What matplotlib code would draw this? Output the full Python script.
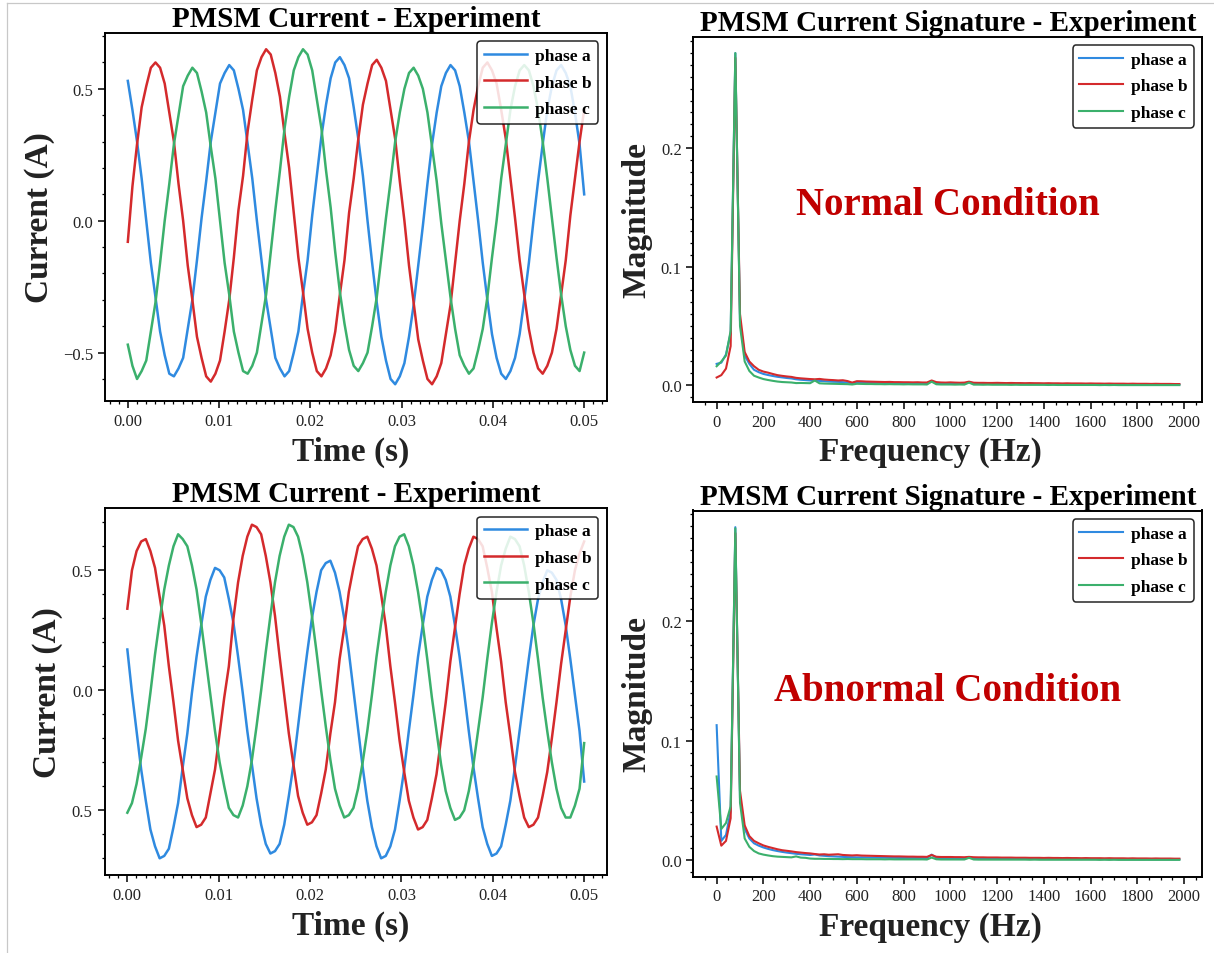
import numpy as np
import matplotlib
matplotlib.use("Agg")
import matplotlib.pyplot as plt
from matplotlib.ticker import MultipleLocator
from matplotlib.lines import Line2D

plt.rcParams["font.family"] = ["Liberation Serif", "DejaVu Serif"]

# ---------------------------------------------------------------- data
time_s = np.linspace(0, 0.05, 100)
freq_hz = np.arange(0, 2000, 20)

# normal condition, phase currents (A)
normal_a = [0.53, 0.42, 0.30, 0.16, 0.00, -0.16, -0.29, -0.42, -0.51, -0.58,
            -0.59, -0.56, -0.52, -0.41, -0.30, -0.15, 0.01, 0.15, 0.30, 0.41,
            0.52, 0.56, 0.59, 0.57, 0.50, 0.42, 0.29, 0.16, 0.00, -0.15,
            -0.30, -0.41, -0.52, -0.56, -0.59, -0.57, -0.50, -0.42, -0.28, -0.15,
            0.02, 0.17, 0.32, 0.44, 0.54, 0.60, 0.62, 0.59, 0.54, 0.43,
            0.31, 0.17, 0.00, -0.16, -0.31, -0.44, -0.53, -0.60, -0.62, -0.59,
            -0.54, -0.44, -0.32, -0.17, -0.02, 0.14, 0.29, 0.41, 0.51, 0.56,
            0.59, 0.57, 0.51, 0.41, 0.30, 0.15, 0.00, -0.16, -0.30, -0.43,
            -0.52, -0.58, -0.60, -0.57, -0.52, -0.43, -0.30, -0.16, 0.00, 0.15,
            0.29, 0.42, 0.51, 0.57, 0.59, 0.56, 0.51, 0.41, 0.29, 0.10]
normal_b = [-0.08, 0.13, 0.29, 0.43, 0.51, 0.58, 0.60, 0.58, 0.52, 0.41,
            0.30, 0.14, 0.00, -0.17, -0.30, -0.44, -0.52, -0.59, -0.61, -0.58,
            -0.53, -0.42, -0.30, -0.14, 0.04, 0.17, 0.34, 0.46, 0.57, 0.62,
            0.65, 0.63, 0.56, 0.47, 0.33, 0.20, 0.03, -0.14, -0.27, -0.41,
            -0.50, -0.57, -0.59, -0.56, -0.51, -0.42, -0.28, -0.15, 0.03, 0.16,
            0.31, 0.44, 0.52, 0.59, 0.61, 0.58, 0.53, 0.42, 0.31, 0.15,
            0.00, -0.17, -0.31, -0.45, -0.53, -0.60, -0.62, -0.59, -0.54, -0.43,
            -0.32, -0.16, 0.00, 0.14, 0.30, 0.42, 0.51, 0.58, 0.60, 0.57,
            0.52, 0.42, 0.31, 0.16, 0.01, -0.15, -0.28, -0.41, -0.50, -0.56,
            -0.58, -0.55, -0.50, -0.41, -0.28, -0.15, 0.02, 0.16, 0.30, 0.42]
normal_c = [-0.47, -0.55, -0.60, -0.57, -0.53, -0.42, -0.31, -0.16, 0.00, 0.14,
            0.29, 0.40, 0.51, 0.55, 0.58, 0.56, 0.49, 0.41, 0.28, 0.16,
            0.00, -0.16, -0.28, -0.42, -0.50, -0.57, -0.58, -0.55, -0.50, -0.39,
            -0.28, -0.12, 0.04, 0.19, 0.35, 0.47, 0.57, 0.62, 0.65, 0.63,
            0.57, 0.46, 0.35, 0.19, 0.05, -0.12, -0.27, -0.39, -0.49, -0.55,
            -0.57, -0.54, -0.50, -0.40, -0.29, -0.14, 0.01, 0.15, 0.30, 0.41,
            0.50, 0.56, 0.58, 0.55, 0.50, 0.41, 0.28, 0.15, -0.01, -0.15,
            -0.29, -0.41, -0.51, -0.55, -0.58, -0.56, -0.49, -0.41, -0.29, -0.14,
            0.00, 0.16, 0.29, 0.42, 0.51, 0.57, 0.59, 0.57, 0.51, 0.42,
            0.30, 0.16, 0.01, -0.14, -0.28, -0.40, -0.49, -0.55, -0.57, -0.50]

# abnormal condition, phase currents (A)
abnormal_a = [0.17, -0.01, -0.17, -0.33, -0.46, -0.58, -0.65, -0.70, -0.69, -0.66,
              -0.57, -0.47, -0.32, -0.18, -0.01, 0.14, 0.27, 0.39, 0.46, 0.51,
              0.50, 0.47, 0.38, 0.28, 0.14, -0.01, -0.17, -0.31, -0.45, -0.56,
              -0.64, -0.68, -0.67, -0.64, -0.56, -0.44, -0.31, -0.15, 0.01, 0.16,
              0.30, 0.41, 0.50, 0.53, 0.54, 0.49, 0.41, 0.30, 0.16, 0.00,
              -0.16, -0.32, -0.46, -0.57, -0.65, -0.70, -0.69, -0.65, -0.58, -0.46,
              -0.33, -0.17, -0.02, 0.14, 0.27, 0.39, 0.46, 0.51, 0.50, 0.46,
              0.39, 0.27, 0.14, -0.01, -0.17, -0.32, -0.45, -0.57, -0.64, -0.69,
              -0.68, -0.65, -0.56, -0.46, -0.32, -0.17, -0.02, 0.13, 0.27, 0.38,
              0.45, 0.50, 0.49, 0.46, 0.38, 0.27, 0.13, -0.02, -0.17, -0.38]
abnormal_b = [0.34, 0.50, 0.58, 0.62, 0.63, 0.58, 0.51, 0.39, 0.27, 0.10,
              -0.05, -0.21, -0.33, -0.45, -0.52, -0.57, -0.56, -0.53, -0.43, -0.33,
              -0.18, -0.03, 0.10, 0.30, 0.45, 0.56, 0.64, 0.69, 0.68, 0.65,
              0.56, 0.45, 0.31, 0.14, -0.02, -0.18, -0.31, -0.44, -0.51, -0.56,
              -0.55, -0.52, -0.43, -0.33, -0.18, -0.05, 0.13, 0.26, 0.41, 0.51,
              0.60, 0.63, 0.64, 0.59, 0.52, 0.40, 0.27, 0.10, -0.05, -0.21,
              -0.34, -0.46, -0.53, -0.58, -0.57, -0.54, -0.45, -0.35, -0.20, -0.05,
              0.12, 0.26, 0.40, 0.52, 0.59, 0.64, 0.63, 0.60, 0.51, 0.41,
              0.26, 0.12, -0.05, -0.19, -0.34, -0.44, -0.53, -0.57, -0.56, -0.53,
              -0.44, -0.34, -0.20, -0.05, 0.11, 0.25, 0.39, 0.50, 0.57, 0.62]
abnormal_c = [-0.51, -0.47, -0.39, -0.28, -0.16, -0.01, 0.15, 0.29, 0.42, 0.52,
              0.60, 0.65, 0.63, 0.60, 0.52, 0.42, 0.28, 0.13, -0.02, -0.17,
              -0.30, -0.40, -0.49, -0.52, -0.53, -0.48, -0.40, -0.29, -0.15, 0.00,
              0.16, 0.31, 0.45, 0.56, 0.64, 0.69, 0.68, 0.64, 0.56, 0.45,
              0.31, 0.16, 0.00, -0.15, -0.29, -0.41, -0.48, -0.53, -0.52, -0.49,
              -0.41, -0.30, -0.17, -0.02, 0.14, 0.28, 0.41, 0.52, 0.60, 0.64,
              0.65, 0.60, 0.52, 0.41, 0.28, 0.13, -0.03, -0.17, -0.31, -0.42,
              -0.49, -0.54, -0.53, -0.50, -0.42, -0.31, -0.17, -0.03, 0.13, 0.28,
              0.41, 0.52, 0.59, 0.64, 0.63, 0.60, 0.52, 0.41, 0.28, 0.13,
              -0.03, -0.17, -0.30, -0.41, -0.49, -0.53, -0.53, -0.48, -0.41, -0.22]

# normal condition, current spectrum magnitudes
normal_fft_a = [0.018, 0.019, 0.026, 0.044, 0.280, 0.054, 0.025, 0.018, 0.013, 0.011,
                0.0095, 0.0086, 0.0078, 0.0071, 0.0066, 0.0061, 0.0057, 0.0050, 0.0046, 0.0043,
                0.0040, 0.0042, 0.0036, 0.0034, 0.0031, 0.0029, 0.0028, 0.0026, 0.0022, 0.0018,
                0.0024, 0.0023, 0.0022, 0.0021, 0.0020, 0.0020, 0.0019, 0.0019, 0.0018, 0.0018,
                0.0017, 0.0017, 0.0016, 0.0017, 0.0016, 0.0016, 0.0035, 0.0018, 0.0015, 0.0015,
                0.0015, 0.0014, 0.0015, 0.0014, 0.0025, 0.0014, 0.0013, 0.0013, 0.0013, 0.0012,
                0.0012, 0.0012, 0.0011, 0.0012, 0.0011, 0.0011, 0.0011, 0.0010, 0.0011, 0.0010,
                0.0010, 0.0010, 0.0009, 0.0010, 0.0009, 0.0009, 0.0009, 0.0009, 0.0008, 0.0009,
                0.0008, 0.0008, 0.0008, 0.0008, 0.0007, 0.0008, 0.0007, 0.0007, 0.0007, 0.0007,
                0.0007, 0.0006, 0.0007, 0.0006, 0.0006, 0.0006, 0.0006, 0.0006, 0.0005, 0.0006]
normal_fft_b = [0.0065, 0.0085, 0.014, 0.033, 0.276, 0.060, 0.028, 0.020, 0.016, 0.013,
                0.0115, 0.0106, 0.0095, 0.0085, 0.0079, 0.0074, 0.0070, 0.0062, 0.0058, 0.0055,
                0.0052, 0.0050, 0.0053, 0.0048, 0.0045, 0.0043, 0.0040, 0.0042, 0.0035, 0.0022,
                0.0034, 0.0033, 0.0031, 0.0030, 0.0029, 0.0028, 0.0027, 0.0028, 0.0026, 0.0026,
                0.0025, 0.0025, 0.0024, 0.0025, 0.0023, 0.0023, 0.0040, 0.0026, 0.0023, 0.0022,
                0.0024, 0.0022, 0.0021, 0.0022, 0.0030, 0.0021, 0.0020, 0.0020, 0.0019, 0.0019,
                0.0020, 0.0019, 0.0018, 0.0019, 0.0018, 0.0018, 0.0017, 0.0018, 0.0017, 0.0017,
                0.0016, 0.0017, 0.0016, 0.0016, 0.0015, 0.0016, 0.0015, 0.0015, 0.0015, 0.0014,
                0.0015, 0.0014, 0.0014, 0.0013, 0.0014, 0.0013, 0.0013, 0.0013, 0.0012, 0.0013,
                0.0012, 0.0012, 0.0012, 0.0011, 0.0012, 0.0011, 0.0011, 0.0011, 0.0010, 0.0010]
normal_fft_c = [0.016, 0.020, 0.025, 0.046, 0.280, 0.050, 0.020, 0.012, 0.0080, 0.0065,
                0.0052, 0.0044, 0.0037, 0.0031, 0.0027, 0.0025, 0.0023, 0.0018, 0.0019, 0.0018,
                0.0017, 0.0040, 0.0016, 0.0014, 0.0013, 0.0012, 0.0011, 0.0010, 0.0009, 0.0006,
                0.0012, 0.0011, 0.0010, 0.0010, 0.0009, 0.0009, 0.0008, 0.0009, 0.0008, 0.0008,
                0.0007, 0.0008, 0.0007, 0.0007, 0.0007, 0.0006, 0.0030, 0.0008, 0.0006, 0.0006,
                0.0006, 0.0005, 0.0006, 0.0005, 0.0022, 0.0005, 0.0005, 0.0004, 0.0005, 0.0004,
                0.0004, 0.0004, 0.0004, 0.0003, 0.0004, 0.0003, 0.0003, 0.0003, 0.0003, 0.0003,
                0.0003, 0.0002, 0.0003, 0.0002, 0.0002, 0.0002, 0.0002, 0.0002, 0.0002, 0.0002,
                0.0002, 0.0002, 0.0001, 0.0002, 0.0001, 0.0002, 0.0001, 0.0001, 0.0001, 0.0001,
                0.0001, 0.0001, 0.0001, 0.0001, 0.0001, 0.0001, 0.0001, 0.0001, 0.0001, 0.0001]

# abnormal condition, current spectrum magnitudes
abnormal_fft_a = [0.113, 0.016, 0.021, 0.041, 0.279, 0.052, 0.026, 0.018, 0.014, 0.012,
                  0.0105, 0.0093, 0.0083, 0.0075, 0.0068, 0.0062, 0.0057, 0.0052, 0.0048, 0.0045,
                  0.0042, 0.0046, 0.0038, 0.0035, 0.0032, 0.0030, 0.0028, 0.0026, 0.0024, 0.0023,
                  0.0022, 0.0022, 0.0021, 0.0020, 0.0020, 0.0019, 0.0019, 0.0018, 0.0018, 0.0017,
                  0.0017, 0.0016, 0.0016, 0.0017, 0.0016, 0.0015, 0.0045, 0.0018, 0.0015, 0.0014,
                  0.0014, 0.0014, 0.0013, 0.0014, 0.0024, 0.0013, 0.0013, 0.0012, 0.0012, 0.0012,
                  0.0012, 0.0012, 0.0011, 0.0012, 0.0011, 0.0011, 0.0011, 0.0010, 0.0011, 0.0010,
                  0.0010, 0.0010, 0.0009, 0.0010, 0.0009, 0.0009, 0.0009, 0.0009, 0.0008, 0.0009,
                  0.0008, 0.0008, 0.0008, 0.0008, 0.0007, 0.0008, 0.0007, 0.0007, 0.0007, 0.0007,
                  0.0007, 0.0006, 0.0007, 0.0006, 0.0006, 0.0006, 0.0006, 0.0006, 0.0005, 0.0006]
abnormal_fft_b = [0.028, 0.012, 0.016, 0.035, 0.274, 0.058, 0.029, 0.020, 0.016, 0.014,
                  0.0122, 0.0110, 0.0100, 0.0090, 0.0082, 0.0077, 0.0072, 0.0066, 0.0062, 0.0058,
                  0.0055, 0.0050, 0.0046, 0.0048, 0.0044, 0.0046, 0.0048, 0.0042, 0.0040, 0.0038,
                  0.0040, 0.0037, 0.0036, 0.0035, 0.0034, 0.0033, 0.0032, 0.0031, 0.0030, 0.0030,
                  0.0029, 0.0028, 0.0028, 0.0027, 0.0027, 0.0026, 0.0042, 0.0027, 0.0025, 0.0025,
                  0.0025, 0.0024, 0.0024, 0.0023, 0.0026, 0.0023, 0.0022, 0.0022, 0.0021, 0.0021,
                  0.0021, 0.0020, 0.0020, 0.0020, 0.0019, 0.0019, 0.0019, 0.0018, 0.0018, 0.0018,
                  0.0017, 0.0018, 0.0017, 0.0017, 0.0016, 0.0017, 0.0016, 0.0016, 0.0015, 0.0016,
                  0.0015, 0.0015, 0.0015, 0.0014, 0.0015, 0.0014, 0.0014, 0.0014, 0.0013, 0.0014,
                  0.0013, 0.0013, 0.0013, 0.0012, 0.0013, 0.0012, 0.0012, 0.0012, 0.0011, 0.0011]
abnormal_fft_c = [0.070, 0.026, 0.031, 0.045, 0.278, 0.048, 0.018, 0.011, 0.0075, 0.0055,
                  0.0045, 0.0038, 0.0032, 0.0028, 0.0026, 0.0024, 0.0022, 0.0030, 0.0020, 0.0018,
                  0.0012, 0.0010, 0.0010, 0.0009, 0.0009, 0.0008, 0.0008, 0.0007, 0.0008, 0.0007,
                  0.0007, 0.0007, 0.0006, 0.0006, 0.0006, 0.0006, 0.0005, 0.0006, 0.0005, 0.0005,
                  0.0005, 0.0005, 0.0005, 0.0005, 0.0005, 0.0004, 0.0020, 0.0006, 0.0004, 0.0004,
                  0.0004, 0.0004, 0.0004, 0.0004, 0.0018, 0.0004, 0.0003, 0.0003, 0.0003, 0.0003,
                  0.0003, 0.0003, 0.0003, 0.0003, 0.0003, 0.0003, 0.0003, 0.0002, 0.0003, 0.0002,
                  0.0002, 0.0002, 0.0002, 0.0002, 0.0002, 0.0002, 0.0002, 0.0002, 0.0002, 0.0002,
                  0.0002, 0.0002, 0.0001, 0.0002, 0.0001, 0.0002, 0.0001, 0.0001, 0.0001, 0.0001,
                  0.0001, 0.0001, 0.0001, 0.0001, 0.0001, 0.0001, 0.0001, 0.0001, 0.0001, 0.0001]

phase_labels = ["phase a", "phase b", "phase c"]
phase_colors = ["#2f8ae0", "#d42a2c", "#3bb06c"]
condition_labels = ["Normal Condition", "Abnormal Condition"]

# ---------------------------------------------------------------- figure
W, H = 1214, 954
fig = plt.figure(figsize=(W / 100, H / 100), dpi=100)

# thin grey frame along the top and left edges
fig.add_artist(Line2D([7 / W, 1], [1 - 4 / H, 1 - 4 / H], color="#c8c8c8", lw=0.9))
fig.add_artist(Line2D([7 / W, 7 / W], [0, 1 - 4 / H], color="#c8c8c8", lw=0.9))


def px_axes(left, top, right, bottom):
    return fig.add_axes([left / W, 1 - bottom / H, (right - left) / W, (bottom - top) / H])


TXT = "#222222"


def style(ax):
    for sp in ax.spines.values():
        sp.set_linewidth(1.4)
        sp.set_color("black")
    ax.tick_params(which="major", direction="out", length=5, width=1.1,
                   labelsize=12, labelcolor=TXT, color="black")
    ax.tick_params(which="minor", direction="out", length=2.5, width=0.9, color="black")


def legend(ax):
    leg = ax.legend(loc="upper right", prop={"weight": "bold", "size": 12.5},
                    handlelength=2.5, frameon=True, fancybox=True,
                    edgecolor="black", framealpha=0.85, borderpad=0.38,
                    labelspacing=0.6, handletextpad=0.45, borderaxespad=0.5)
    leg.get_frame().set_linewidth(1.1)


def time_panel(ax, series, yticklabels=None):
    for vals, lab, col in zip(series, phase_labels, phase_colors):
        ax.plot(time_s, vals, color=col, lw=1.8, label=lab)
    style(ax)
    ax.set_title("PMSM Current - Experiment", fontsize=21, fontweight="bold", pad=5)
    ax.set_xlabel("Time (s)", fontsize=24, fontweight="bold", color=TXT)
    ax.set_ylabel("Current (A)", fontsize=24, fontweight="bold", color=TXT, labelpad=6)
    ax.xaxis.set_label_coords(0.49, -0.095)
    ax.xaxis.set_major_locator(MultipleLocator(0.01))
    ax.xaxis.set_minor_locator(MultipleLocator(0.001))
    ax.yaxis.set_major_locator(MultipleLocator(0.5))
    ax.yaxis.set_minor_locator(MultipleLocator(0.1))
    if yticklabels is not None:
        ax.set_yticks([-0.5, 0.0, 0.5], yticklabels)
    legend(ax)


def freq_panel(ax, series, condition, cond_y):
    for vals, lab, col in zip(series, phase_labels, phase_colors):
        ax.plot(freq_hz, vals, color=col, lw=1.5, label=lab)
    style(ax)
    ax.set_title("PMSM Current Signature - Experiment", fontsize=21, fontweight="bold", pad=5)
    ax.set_xlabel("Frequency (Hz)", fontsize=24, fontweight="bold", color=TXT)
    ax.set_ylabel("Magnitude", fontsize=24, fontweight="bold", color=TXT, labelpad=6)
    ax.xaxis.set_label_coords(0.465, -0.095)
    ax.xaxis.set_major_locator(MultipleLocator(200))
    ax.xaxis.set_minor_locator(MultipleLocator(50))
    ax.yaxis.set_major_locator(MultipleLocator(0.1))
    ax.yaxis.set_minor_locator(MultipleLocator(0.01))
    ax.text(0.5, cond_y, condition, transform=ax.transAxes, ha="center", va="center",
            fontsize=28, fontweight="bold", color="#c00000")
    legend(ax)


ax1 = px_axes(105, 33.5, 607, 402)
time_panel(ax1, [normal_a, normal_b, normal_c])

ax2 = px_axes(693.5, 37.5, 1202.5, 402.7)
freq_panel(ax2, [normal_fft_a, normal_fft_b, normal_fft_c], condition_labels[0], 0.541)

ax3 = px_axes(104.5, 509, 607, 876)
time_panel(ax3, [abnormal_a, abnormal_b, abnormal_c], yticklabels=["0.5", "0.0", "0.5"])

ax4 = px_axes(693.5, 511.5, 1202.5, 877.5)
freq_panel(ax4, [abnormal_fft_a, abnormal_fft_b, abnormal_fft_c], condition_labels[1], 0.507)

fig.savefig("out.png", dpi=100)
